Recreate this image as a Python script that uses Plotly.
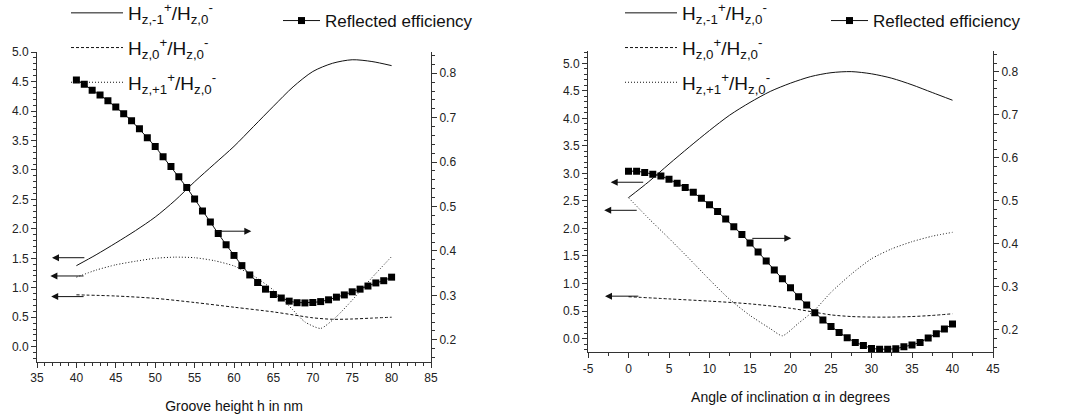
import plotly.graph_objects as go

# ---------------- data: left panel (groove height) ----------------
h_eff = list(range(40, 81))
eff_left = [0.785, 0.775, 0.762, 0.751, 0.738, 0.724, 0.709, 0.693, 0.675, 0.655,
            0.635, 0.612, 0.590, 0.567, 0.543, 0.517, 0.490, 0.465, 0.439, 0.414,
            0.390, 0.367, 0.346, 0.329, 0.314, 0.302, 0.294, 0.287, 0.2835, 0.283,
            0.284, 0.286, 0.290, 0.296, 0.301, 0.308, 0.314, 0.321, 0.328, 0.333, 0.341]

h_m1 = [40, 42.5, 45, 47.5, 50, 52.5, 55, 57.5, 60, 62.5, 65, 67.5, 70, 72.5, 75, 77.5, 80]
hm1_left = [1.375, 1.56, 1.76, 1.97, 2.20, 2.48, 2.80, 3.10, 3.40, 3.74, 4.08, 4.41, 4.67, 4.81, 4.87, 4.84, 4.77]

h_0 = [40, 45, 50, 55, 60, 65, 67.5, 70, 72.5, 75, 77.5, 80]
h0_left = [0.88, 0.86, 0.82, 0.75, 0.67, 0.59, 0.54, 0.49, 0.465, 0.47, 0.485, 0.50]

h_p1 = [40, 42.5, 45, 47.5, 50, 52.5, 55, 57.5, 60, 62.5, 65, 67.5, 69, 71, 73, 75, 77.5, 80]
hp1_left = [1.18, 1.30, 1.39, 1.45, 1.50, 1.52, 1.51, 1.46, 1.37, 1.20, 0.96, 0.62, 0.42, 0.31, 0.51, 0.79, 1.17, 1.53]

# ---------------- data: right panel (angle of inclination) ----------------
a_eff = list(range(0, 41))
eff_right = [0.569, 0.569, 0.566, 0.562, 0.558, 0.550, 0.541, 0.531, 0.520, 0.506,
             0.491, 0.475, 0.458, 0.440, 0.422, 0.402, 0.381, 0.360, 0.339, 0.319,
             0.298, 0.277, 0.258, 0.240, 0.223, 0.208, 0.194, 0.182, 0.171, 0.164,
             0.157, 0.155, 0.155, 0.156, 0.161, 0.165, 0.171, 0.181, 0.191, 0.202, 0.214]

a_m1 = [0, 2.5, 5, 7.5, 10, 12.5, 15, 17.5, 20, 22.5, 25, 27.5, 30, 32.5, 35, 37.5, 40]
hm1_right = [2.56, 2.85, 3.17, 3.48, 3.78, 4.06, 4.29, 4.49, 4.64, 4.76, 4.83, 4.85, 4.81, 4.73, 4.61, 4.47, 4.33]

a_0 = [0, 5, 10, 15, 20, 22.5, 25, 27.5, 30, 32.5, 35, 37.5, 40]
h0_right = [0.76, 0.72, 0.68, 0.63, 0.55, 0.49, 0.43, 0.40, 0.39, 0.39, 0.40, 0.42, 0.45]

a_p1 = [0, 2.5, 5, 7.5, 10, 12.5, 15, 17.5, 19, 21, 23, 25, 27.5, 30, 32.5, 35, 37.5, 40]
hp1_right = [2.56, 2.18, 1.82, 1.45, 1.07, 0.71, 0.42, 0.18, 0.05, 0.28, 0.52, 0.84, 1.17, 1.45, 1.63, 1.76, 1.86, 1.93]

# tick labels of the angle axis (hyphen minus as in the original)
angle_ticks = [-5, 0, 5, 10, 15, 20, 25, 30, 35, 40, 45]
angle_ticktext = ["-5", "0", "5", "10", "15", "20", "25", "30", "35", "40", "45"]

# legend / axis labels
name_m1 = "H<sub>z,-1</sub><sup>+</sup>/H<sub>z,0</sub><sup>-</sup>"
name_0 = "H<sub>z,0</sub><sup>+</sup>/H<sub>z,0</sub><sup>-</sup>"
name_p1 = "H<sub>z,+1</sub><sup>+</sup>/H<sub>z,0</sub><sup>-</sup>"
name_eff = "Reflected efficiency"
xtitle_left = "Groove height h in nm"
xtitle_right = "Angle of inclination \u03b1 in degrees"

FONT = "Liberation Sans, Arial, sans-serif"
INK = "#111111"
W, H = 1079, 415

fig = go.Figure()

def add_panel(tag, xa, ya, ya2, leg_h, leg_e, xm1, ym1, x0, y0, xp1, yp1, xe, ye):
    fig.add_trace(go.Scatter(x=xm1, y=ym1, name=name_m1, mode="lines", legendgroup=tag + "m1",
                             line=dict(color=INK, width=1, shape="spline", smoothing=0.8),
                             xaxis=xa, yaxis=ya, legend=leg_h))
    fig.add_trace(go.Scatter(x=x0, y=y0, name=name_0, mode="lines", legendgroup=tag + "0",
                             line=dict(color=INK, width=1, dash="3px,2px", shape="spline", smoothing=0.8),
                             xaxis=xa, yaxis=ya, legend=leg_h))
    fig.add_trace(go.Scatter(x=xp1, y=yp1, name=name_p1, mode="lines", legendgroup=tag + "p1",
                             line=dict(color=INK, width=1, dash="1px,2px", shape="spline", smoothing=0.6),
                             xaxis=xa, yaxis=ya, legend=leg_h))
    fig.add_trace(go.Scatter(x=xe, y=ye, name=name_eff, mode="lines+markers", legendgroup=tag + "eff",
                             line=dict(color=INK, width=1),
                             marker=dict(symbol="square", size=7, color="black"),
                             xaxis=xa, yaxis=ya2, legend=leg_e))

add_panel("L", "x", "y", "y2", "legend", "legend2", h_m1, hm1_left, h_0, h0_left, h_p1, hp1_left, h_eff, eff_left)
add_panel("R", "x2", "y3", "y4", "legend3", "legend4", a_m1, hm1_right, a_0, h0_right, a_p1, hp1_right, a_eff, eff_right)

def px_x(p):
    return p / W

def px_y(p):
    return (H - p) / H

tickfont = dict(family=FONT, size=12, color="#222222")
common = dict(showline=True, linecolor="#333333", linewidth=1, ticks="outside", ticklen=5,
              tickwidth=1, tickcolor="#333333", showgrid=False, zeroline=False, tickfont=tickfont,
              automargin=False,
              minor=dict(ticks="outside", ticklen=3, tickwidth=1, tickcolor="#333333", showgrid=False))

leg_h_common = dict(xanchor="left", yanchor="top", bgcolor="rgba(0,0,0,0)",
                    font=dict(size=19, family=FONT, color=INK), itemwidth=52, tracegroupgap=7)
leg_e_common = dict(xanchor="left", yanchor="top", bgcolor="rgba(0,0,0,0)",
                    font=dict(size=17, family=FONT, color=INK), itemwidth=37)

fig.update_layout(
    width=W, height=H, margin=dict(l=0, r=0, t=0, b=0, autoexpand=False),
    paper_bgcolor="white", plot_bgcolor="white",
    font=dict(family=FONT, color=INK),
    xaxis=dict(domain=[px_x(37), px_x(431)], anchor="y", range=[35, 85], dtick=5, tick0=35,
               title=dict(text=xtitle_left, font=dict(size=14, family=FONT, color=INK), standoff=16),
               **common),
    yaxis=dict(domain=[px_y(362), px_y(51.5)], anchor="x", range=[-0.26, 5.01], dtick=0.5, tick0=0,
               tickformat=".1f", **common),
    yaxis2=dict(overlaying="y", side="right", anchor="x", range=[0.150, 0.849], dtick=0.1, tick0=0.2,
                tickformat=".1f", **common),
    xaxis2=dict(domain=[px_x(588), px_x(993)], anchor="y3", range=[-5, 45],
                tickmode="array", tickvals=angle_ticks, ticktext=angle_ticktext,
                title=dict(text=xtitle_right, font=dict(size=14, family=FONT, color=INK), standoff=17),
                **{k: v for k, v in common.items() if k != "minor"},
                minor=dict(ticks="outside", ticklen=3, tickwidth=1, tickcolor="#333333",
                           showgrid=False, tickmode="linear", tick0=-2.5, dtick=5)),
    yaxis3=dict(domain=[px_y(352.3), px_y(50.7)], anchor="x2", range=[-0.25, 5.23], dtick=0.5, tick0=0,
                tickformat=".1f", **common),
    yaxis4=dict(overlaying="y3", side="right", anchor="x2", range=[0.148, 0.849], dtick=0.1, tick0=0.2,
                tickformat=".1f", **common),
    legend=dict(x=px_x(66), y=px_y(-6), **leg_h_common),
    legend2=dict(x=px_x(278), y=px_y(3), **leg_e_common),
    legend3=dict(x=px_x(620), y=px_y(-6), **leg_h_common),
    legend4=dict(x=px_x(826), y=px_y(3), **leg_e_common),
)

# arrows indicating the axis each curve belongs to
arrows = [
    ("x", "y", 41.2, 1.51, 36.9, 1.51),
    ("x", "y", 41.1, 1.20, 36.7, 1.20),
    ("x", "y", 41.1, 0.85, 36.8, 0.85),
    ("x", "y", 57.5, 1.96, 62.2, 1.96),
    ("x2", "y3", 2.0, 2.84, -2.2, 2.84),
    ("x2", "y3", 1.2, 2.33, -3.0, 2.33),
    ("x2", "y3", 1.4, 0.77, -2.9, 0.77),
    ("x2", "y3", 15.1, 1.82, 20.1, 1.82),
]
for xr, yr, x_tail, y_tail, x_head, y_head in arrows:
    fig.add_annotation(x=x_head, y=y_head, ax=x_tail, ay=y_tail, xref=xr, yref=yr,
                       axref=xr, ayref=yr, text="", showarrow=True, arrowhead=2,
                       arrowsize=1.4, arrowwidth=1, arrowcolor=INK)

# remove the default page margin so the figure sits at the window's top-left corner
fig.write_html("out.html", config={"displayModeBar": False},
               post_script="document.body.style.margin='0px';")
